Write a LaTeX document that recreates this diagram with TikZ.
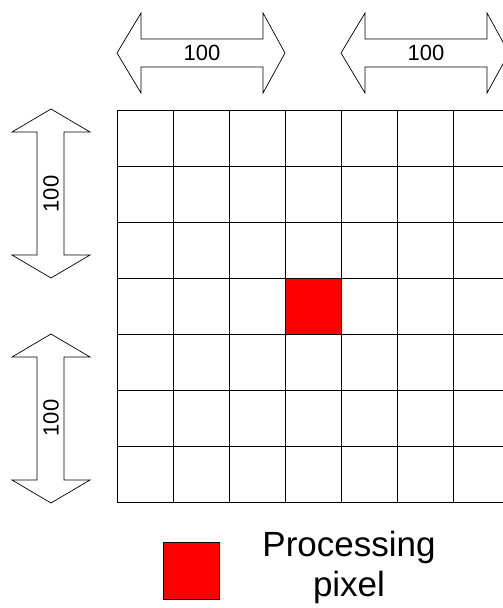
\documentclass[tikz,border=0pt]{standalone}
\usepackage{fontspec}
\setmainfont{Liberation Sans}
\begin{document}
\begin{tikzpicture}[x=1pt,y=-1pt,
  gridline/.style={draw=black,line width=1pt},
  arrowshape/.style={draw=black,line width=0.7pt,fill=white,line join=miter},
  dimlabel/.style={inner sep=0pt,font=\fontsize{22}{24}\selectfont},
  redpix/.style={fill=red,draw=black,line width=1pt}]
\useasboundingbox (0,0) rectangle (503,608);
\begin{scope}
\clip (0,0) rectangle (503,608);
% grid
\fill[red] (285,278) rectangle (341,334);
\foreach \i in {0,...,7} {
  \draw[gridline] (117+56*\i,110) -- (117+56*\i,502);
  \draw[gridline] (117,110+56*\i) -- (509,110+56*\i);
}
% horizontal arrows
\foreach \s in {0,224} {
  \draw[arrowshape] (117+\s,53) -- (141+\s,13) -- (141+\s,39) -- (263+\s,39) -- (263+\s,13) -- (285+\s,53)
    -- (263+\s,93) -- (263+\s,67) -- (141+\s,67) -- (141+\s,93) -- cycle;
}
% vertical arrows
\foreach \s in {0,225} {
  \draw[arrowshape] (51,109+\s) -- (90,132+\s) -- (64,132+\s) -- (64,255+\s) -- (90,255+\s) -- (51,278+\s)
    -- (12,255+\s) -- (37,255+\s) -- (37,132+\s) -- (12,132+\s) -- cycle;
}
\end{scope}
\node[dimlabel] (h1) at (202,53) {100};
\node[dimlabel] (h2) at (426,53) {100};
\node[dimlabel,rotate=90] (v1) at (51,194) {100};
\node[dimlabel,rotate=90] (v2) at (51,418) {100};
% legend
\node[redpix,minimum width=56pt,minimum height=57pt,inner sep=0pt] (legsq) at (191,570.5) {};
\node[align=center,inner sep=0pt,font=\fontsize{35}{40}\selectfont] (legtxt) at (349,567) {Processing\\pixel};
\end{tikzpicture}
\end{document}
